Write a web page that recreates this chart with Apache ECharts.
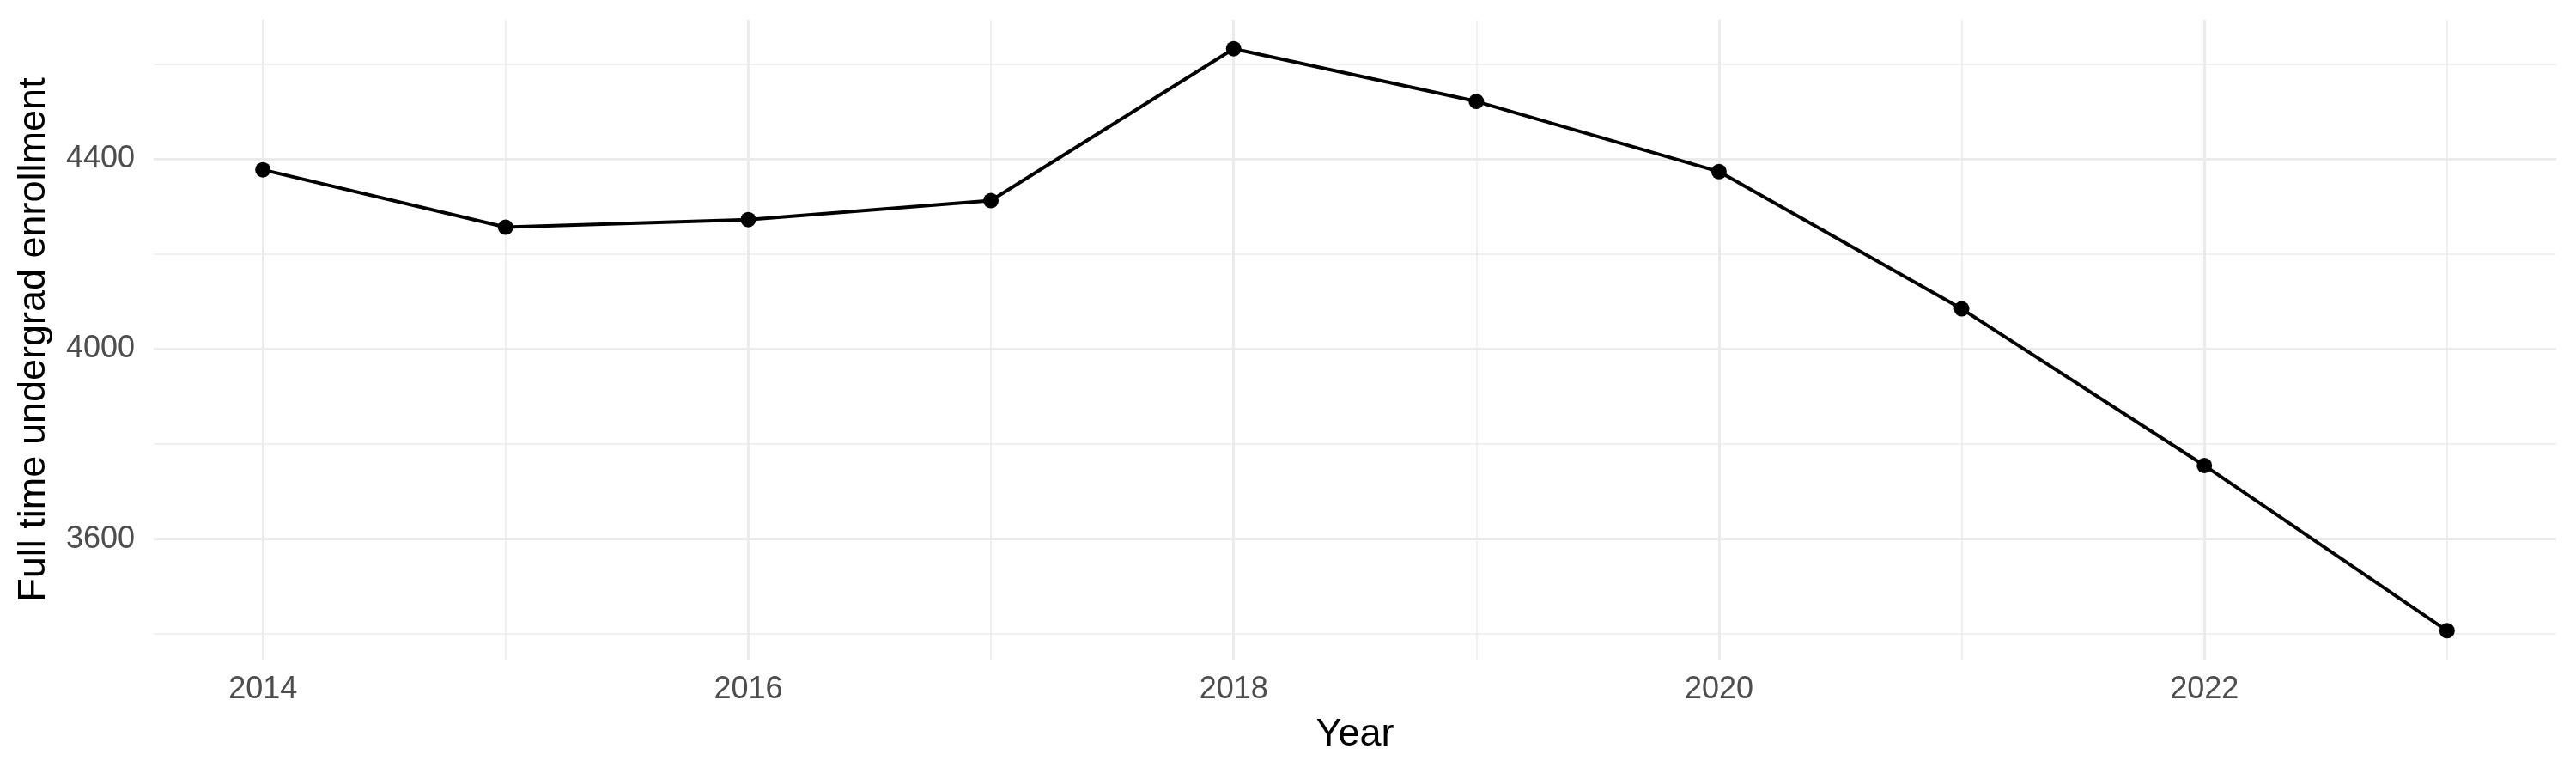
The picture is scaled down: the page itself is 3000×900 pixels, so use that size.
<!DOCTYPE html>
<html>
<head>
<meta charset="utf-8">
<script src="https://cdn.jsdelivr.net/npm/echarts@6/dist/echarts.min.js"></script>
<style>
html,body{margin:0;padding:0;background:#fff;}
#chart{width:3000px;height:900px;}
</style>
</head>
<body>
<div id="chart"></div>
<script>
const years = [2014, 2015, 2016, 2017, 2018, 2019, 2020, 2021, 2022, 2023];
const enrollment = [4378, 4257, 4273, 4313, 4633, 4522, 4374, 4085, 3755, 3407];
const xMajorTicks = [2014, 2016, 2018, 2020, 2022];
const xMinorTicks = [2015, 2017, 2019, 2021, 2023];
const yMajorTicks = [3600, 4000, 4400];
const yMinorTicks = [3400, 3800, 4200, 4600];
const xRange = [2013.55, 2023.45];
const yRange = [3346, 4694];

const FONT = '"Liberation Sans", Arial, Helvetica, sans-serif';
const GRID = '#EBEBEB';

const chart = echarts.init(document.getElementById('chart'), null, {renderer: 'canvas'});

function xAxisDef(ticks, major) {
  return {
    type: 'value',
    min: xRange[0], max: xRange[1],
    position: 'bottom',
    axisLine: {show: false},
    axisTick: {show: false, customValues: ticks},
    axisLabel: major ? {show: true, customValues: ticks, color: '#4D4D4D', fontSize: 36, fontFamily: FONT, margin: 17, formatter: v => String(v)} : {show: false},
    splitLine: {show: true, lineStyle: {color: GRID, width: major ? 3 : 1.5}},
    name: major ? 'Year' : '',
    nameLocation: 'middle',
    nameGap: 65,
    nameTextStyle: {color: '#000', fontSize: 45, fontFamily: FONT}
  };
}
function yAxisDef(ticks, major) {
  return {
    type: 'value',
    min: yRange[0], max: yRange[1],
    position: 'left',
    axisLine: {show: false},
    axisTick: {show: false, customValues: ticks},
    axisLabel: major ? {show: true, customValues: ticks, color: '#4D4D4D', fontSize: 36, fontFamily: FONT, margin: 22, formatter: v => String(v)} : {show: false},
    splitLine: {show: true, lineStyle: {color: GRID, width: major ? 3 : 1.5}},
    name: major ? 'Full time undergrad enrollment' : '',
    nameLocation: 'middle',
    nameRotate: 90,
    nameGap: 117,
    nameTextStyle: {color: '#000', fontSize: 45, fontFamily: FONT}
  };
}

chart.setOption({
  animation: false,
  backgroundColor: '#ffffff',
  grid: {left: 179, right: 23, top: 23, bottom: 132, containLabel: false},
  xAxis: [xAxisDef(xMinorTicks, false), xAxisDef(xMajorTicks, true)],
  yAxis: [yAxisDef(yMinorTicks, false), yAxisDef(yMajorTicks, true)],
  series: [{
    type: 'line',
    xAxisIndex: 1,
    yAxisIndex: 1,
    data: years.map((y, i) => [y, enrollment[i]]),
    symbol: 'circle',
    symbolSize: 18,
    lineStyle: {color: '#000', width: 4},
    itemStyle: {color: '#000'},
    emphasis: {disabled: true},
    z: 10
  }]
});
</script>
</body>
</html>
